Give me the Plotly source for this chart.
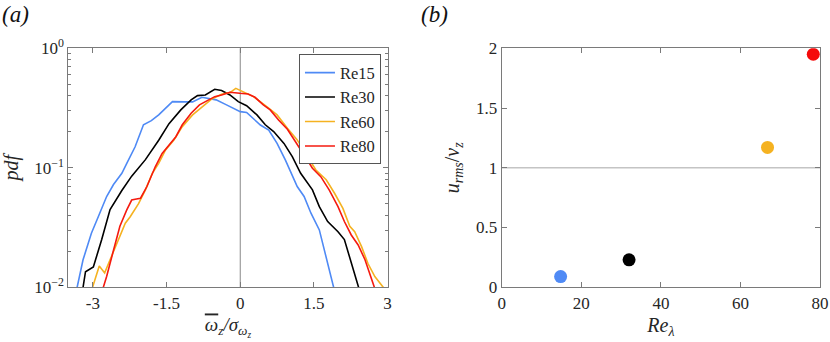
import plotly.graph_objects as go

# (a) pdf curves
x_re15 = [-3.40, -3.32, -3.20, -3.03, -2.89, -2.72, -2.58, -2.41, -2.31, -2.14, -1.97, -1.81, -1.66,
          -1.38, -1.14, -0.97, -0.78, -0.49, -0.28, 0.0, 0.13, 0.27, 0.41, 0.58, 0.75, 0.92, 1.06,
          1.16, 1.30, 1.44, 1.61, 1.75, 1.90, 1.96]
pdf_re15 = [0.0080, 0.0100, 0.0170, 0.0283, 0.0389, 0.0575, 0.0724, 0.0899, 0.109, 0.150, 0.229,
            0.248, 0.277, 0.358, 0.356, 0.356, 0.389, 0.370, 0.336, 0.295, 0.290, 0.259, 0.228,
            0.207, 0.160, 0.116, 0.0871, 0.0697, 0.0575, 0.0417, 0.0302, 0.0182, 0.0100, 0.0080]

x_re30 = [-3.25, -3.20, -3.15, -2.99, -2.82, -2.65, -2.41, -2.21, -1.93, -1.66, -1.45, -1.21, -1.00,
          -0.87, -0.71, -0.52, -0.38, -0.21, -0.04, 0.13, 0.34, 0.51, 0.68, 0.89, 1.06, 1.23, 1.47,
          1.61, 1.78, 1.99, 2.12, 2.26, 2.41, 2.46]
pdf_re30 = [0.0085, 0.0100, 0.0135, 0.0148, 0.0251, 0.0447, 0.0646, 0.0851, 0.117, 0.170, 0.234,
            0.305, 0.370, 0.402, 0.407, 0.454, 0.443, 0.407, 0.358, 0.331, 0.277, 0.229, 0.201,
            0.160, 0.124, 0.0899, 0.0653, 0.0473, 0.0355, 0.0292, 0.0251, 0.0158, 0.0100, 0.0085]

x_re60 = [-3.06, -3.01, -2.87, -2.76, -2.62, -2.48, -2.34, -2.24, -2.07, -1.93, -1.79, -1.66, -1.52,
          -1.35, -1.18, -0.97, -0.76, -0.59, -0.38, -0.21, -0.09, 0.06, 0.27, 0.54, 0.75, 0.96,
          1.16, 1.37, 1.54, 1.75, 1.92, 2.09, 2.23, 2.33, 2.47, 2.60, 2.74, 2.91, 2.98]
pdf_re60 = [0.0085, 0.0100, 0.0151, 0.0132, 0.0182, 0.0251, 0.0344, 0.0389, 0.0501, 0.0653, 0.0899,
            0.109, 0.141, 0.171, 0.221, 0.277, 0.325, 0.374, 0.412, 0.426, 0.462, 0.434, 0.394,
            0.325, 0.277, 0.214, 0.171, 0.124, 0.0959, 0.0794, 0.0612, 0.0457, 0.0324, 0.0292,
            0.0219, 0.0158, 0.0123, 0.0100, 0.0090]

x_re80 = [-2.84, -2.79, -2.72, -2.58, -2.45, -2.31, -2.21, -2.14, -2.03, -1.90, -1.73, -1.59, -1.45,
          -1.31, -1.18, -1.00, -0.83, -0.66, -0.52, -0.38, -0.21, -0.01, 0.16, 0.30, 0.47, 0.61,
          0.78, 0.96, 1.13, 1.30, 1.47, 1.64, 1.81, 1.99, 2.12, 2.26, 2.40, 2.54, 2.73, 2.78]
pdf_re80 = [0.0085, 0.0100, 0.0123, 0.0204, 0.0324, 0.0444, 0.0537, 0.0545, 0.0556, 0.0697, 0.102,
            0.132, 0.155, 0.182, 0.229, 0.286, 0.336, 0.370, 0.394, 0.407, 0.429, 0.420, 0.415,
            0.389, 0.336, 0.305, 0.251, 0.210, 0.166, 0.128, 0.0991, 0.0843, 0.0653, 0.0473,
            0.0355, 0.0274, 0.0226, 0.0170, 0.0100, 0.0085]

# (b) u_rms / v_z against Re_lambda
re_lambda = [14.8, 32.0, 66.8, 78.3]
urms_vz = [0.09, 0.23, 1.17, 1.95]

names = ["Re15", "Re30", "Re60", "Re80"]
colors = ["#4f8af5", "#000000", "#f5b221", "#f51a0f"]
marker_colors = ["#4f8af5", "#000000", "#f5b221", "#f50a0a"]

FONT = "Liberation Serif"
AX = "#7a7a7a"

fig = go.Figure()

curves = [(x_re15, pdf_re15), (x_re30, pdf_re30), (x_re60, pdf_re60), (x_re80, pdf_re80)]
for (xs, ys), name, col in zip(curves, names, colors):
    fig.add_trace(go.Scatter(x=xs, y=ys, mode="lines", name=name,
                             line=dict(color=col, width=1.6), xaxis="x", yaxis="y"))

for xv, yv, col in zip(re_lambda, urms_vz, marker_colors):
    fig.add_trace(go.Scatter(x=[xv], y=[yv], mode="markers", showlegend=False,
                             marker=dict(color=col, size=13), xaxis="x2", yaxis="y2"))

axis_common = dict(showline=True, linecolor=AX, linewidth=1, mirror="ticks", ticks="inside",
                   ticklen=5, tickcolor=AX, showgrid=False, zeroline=False, automargin=False,
                   tickfont=dict(family=FONT, size=17, color="#262626"))

minor_vals = [k * 10 ** e for e in (-2, -1) for k in range(2, 10)]

fig.update_layout(
    width=830, height=342,
    margin=dict(l=0, r=0, t=0, b=0),
    paper_bgcolor="white", plot_bgcolor="white",
    font=dict(family=FONT, size=17, color="#262626"),
    xaxis=dict(domain=[0.0823, 0.467], range=[-3.5, 3], tickvals=[-3, -1.5, 0, 1.5, 3],
               ticktext=["-3", "-1.5", "0", "1.5", "3"],
               title=dict(text="<i><span style=\"text-decoration:overline\">ω</span><sub>z</sub>"
                               "/σ<sub>ω<sub>z</sub></sub></i>",
                          font=dict(family=FONT, size=19), standoff=6),
               anchor="y", **axis_common),
    yaxis=dict(domain=[0.16, 0.8588], type="log", range=[-2, 0],
               tickvals=[0.01, 0.1, 1],
               ticktext=["10<sup>−2</sup>", "10<sup>−1</sup>", "10<sup>0</sup>"],
               minor=dict(tickvals=minor_vals, ticks="inside", ticklen=3, tickcolor=AX),
               title=dict(text="<i>pdf</i>", font=dict(family=FONT, size=20), standoff=12),
               anchor="x", **axis_common),
    xaxis2=dict(domain=[0.6045, 0.988], range=[0, 80], tickvals=[0, 20, 40, 60, 80],
                title=dict(text="<i>Re<sub>λ</sub></i>", font=dict(family=FONT, size=20), standoff=6),
                anchor="y2", **axis_common),
    yaxis2=dict(domain=[0.16, 0.8588], range=[0, 2], tickvals=[0, 0.5, 1, 1.5, 2],
                ticktext=["0", "0.5", "1", "1.5", "2"],
                title=dict(text="<i>u<sub>rms</sub></i>/<i>v<sub>z</sub></i>",
                           font=dict(family=FONT, size=20), standoff=11),
                anchor="x2", **axis_common),
    legend=dict(x=0.459, y=0.841, xanchor="right", yanchor="top", bgcolor="white",
                bordercolor="#555555", borderwidth=1, font=dict(family=FONT, size=16.5),
                tracegroupgap=0, itemwidth=30),
    showlegend=True,
)

fig.add_shape(type="line", x0=0, x1=0, y0=0, y1=1, xref="x", yref="y domain",
              line=dict(color="#888888", width=1), layer="below")
fig.add_shape(type="line", x0=0, x1=1, y0=1, y1=1, xref="x2 domain", yref="y2",
              line=dict(color="#c4c4c4", width=1.6), layer="below")

fig.add_annotation(text="<i>(a)</i>", x=0.0, y=1.0, xref="paper", yref="paper", xanchor="left",
                   yanchor="top", showarrow=False, font=dict(family=FONT, size=23, color="#111111"))
fig.add_annotation(text="<i>(b)</i>", x=0.505, y=1.0, xref="paper", yref="paper", xanchor="left",
                   yanchor="top", showarrow=False, font=dict(family=FONT, size=23, color="#111111"))

# the page body has a default 8px margin; drop it so the figure sits at the window corner
fig.write_html("out.html", config={"displayModeBar": False},
               post_script="document.body.style.margin='0';")
